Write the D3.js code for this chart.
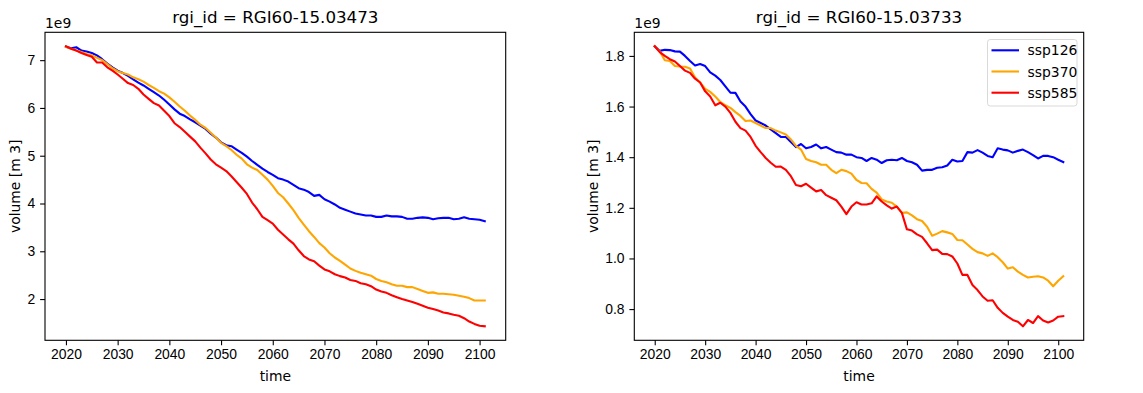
<!DOCTYPE html>
<html>
<head>
<meta charset="utf-8">
<script src="https://cdn.jsdelivr.net/npm/d3@7"></script>
<style>
  body { margin: 0; background: #fff; }
  svg { display: block; font-family: "DejaVu Sans", sans-serif; }
  .tick text { font-size: 13.9px; fill: #000; }
  .tick line { stroke: #000; stroke-width: 1.1; }
  .domain { display: none; }
</style>
</head>
<body>
<script>
const width = 1143;
const height = 393;

// yearly time axis, 2020..2101
const years = d3.range(2020, 2102);
const xTicks = [2020, 2030, 2040, 2050, 2060, 2070, 2080, 2090, 2100];

const scenarios = ['ssp126', 'ssp370', 'ssp585'];
const colors = ['#0000ff', '#ffa500', '#ff0000'];

// RGI60-15.03473, volume in 1e9 m3
const a_ssp126 = [7.28, 7.25, 7.27, 7.20, 7.18, 7.15, 7.10, 7.02, 6.93, 6.85,
  6.78, 6.73, 6.67, 6.60, 6.53, 6.47, 6.40, 6.33, 6.26, 6.17,
  6.07, 5.97, 5.88, 5.83, 5.76, 5.70, 5.63, 5.56, 5.46, 5.38,
  5.28, 5.22, 5.20, 5.13, 5.06, 4.98, 4.89, 4.81, 4.73, 4.66,
  4.60, 4.53, 4.50, 4.46, 4.39, 4.32, 4.29, 4.24, 4.16, 4.18,
  4.09, 4.04, 3.98, 3.91, 3.87, 3.83, 3.79, 3.77, 3.75, 3.75,
  3.72, 3.72, 3.75, 3.73, 3.73, 3.72, 3.68, 3.68, 3.70, 3.71,
  3.70, 3.67, 3.69, 3.70, 3.70, 3.67, 3.68, 3.71, 3.68, 3.67,
  3.66, 3.63];
const a_ssp370 = [7.28, 7.24, 7.20, 7.17, 7.13, 7.10, 7.05, 7.00, 6.92, 6.83,
  6.77, 6.73, 6.70, 6.64, 6.60, 6.55, 6.48, 6.42, 6.35, 6.30,
  6.22, 6.13, 6.03, 5.94, 5.84, 5.75, 5.65, 5.58, 5.48, 5.38,
  5.27, 5.20, 5.12, 5.02, 4.94, 4.82, 4.75, 4.70, 4.60, 4.50,
  4.37, 4.22, 4.13, 4.00, 3.86, 3.70, 3.56, 3.42, 3.30, 3.17,
  3.08, 2.96, 2.87, 2.80, 2.72, 2.64, 2.59, 2.55, 2.52, 2.49,
  2.42, 2.38, 2.35, 2.31, 2.28, 2.28, 2.25, 2.25, 2.21, 2.17,
  2.13, 2.14, 2.11, 2.11, 2.10, 2.09, 2.07, 2.05, 2.02, 1.97,
  1.97, 1.97];
const a_ssp585 = [7.29, 7.24, 7.20, 7.15, 7.11, 7.07, 6.95, 6.95, 6.85, 6.78,
  6.70, 6.61, 6.52, 6.48, 6.40, 6.28, 6.19, 6.10, 6.05, 5.94,
  5.83, 5.68, 5.60, 5.50, 5.40, 5.30, 5.17, 5.05, 4.92, 4.82,
  4.75, 4.68, 4.57, 4.45, 4.33, 4.20, 4.02, 3.88, 3.72, 3.65,
  3.58, 3.45, 3.35, 3.25, 3.16, 3.02, 2.90, 2.83, 2.79, 2.70,
  2.62, 2.58, 2.52, 2.48, 2.45, 2.40, 2.38, 2.33, 2.31, 2.27,
  2.20, 2.16, 2.13, 2.08, 2.04, 2.00, 1.97, 1.94, 1.90, 1.86,
  1.82, 1.79, 1.76, 1.72, 1.70, 1.67, 1.65, 1.60, 1.53, 1.48,
  1.44, 1.43];
const a_yTicks = [2, 3, 4, 5, 6, 7];

// RGI60-15.03733, volume in 1e9 m3
const b_ssp126 = [1.838, 1.820, 1.824, 1.823, 1.818, 1.817, 1.800, 1.780, 1.762, 1.768,
  1.760, 1.735, 1.722, 1.705, 1.680, 1.655, 1.654, 1.620, 1.600, 1.570,
  1.545, 1.535, 1.525, 1.510, 1.495, 1.480, 1.480, 1.460, 1.440, 1.452,
  1.435, 1.440, 1.450, 1.435, 1.440, 1.430, 1.420, 1.418, 1.410, 1.410,
  1.400, 1.397, 1.385, 1.397, 1.390, 1.377, 1.388, 1.390, 1.388, 1.397,
  1.385, 1.380, 1.370, 1.347, 1.350, 1.350, 1.358, 1.360, 1.367, 1.390,
  1.383, 1.385, 1.420, 1.418, 1.428, 1.418, 1.405, 1.400, 1.435, 1.430,
  1.427, 1.418, 1.425, 1.430, 1.420, 1.408, 1.395, 1.405, 1.405, 1.400,
  1.390, 1.381];
const b_ssp370 = [1.838, 1.818, 1.783, 1.780, 1.760, 1.758, 1.757, 1.750, 1.715, 1.695,
  1.670, 1.658, 1.640, 1.618, 1.605, 1.595, 1.578, 1.563, 1.543, 1.545,
  1.535, 1.525, 1.515, 1.515, 1.505, 1.498, 1.490, 1.470, 1.445, 1.430,
  1.393, 1.385, 1.380, 1.370, 1.370, 1.350, 1.337, 1.350, 1.345, 1.335,
  1.310, 1.298, 1.297, 1.275, 1.260, 1.233, 1.225, 1.220, 1.205, 1.180,
  1.182, 1.170, 1.155, 1.148, 1.125, 1.090, 1.098, 1.108, 1.103, 1.097,
  1.073, 1.072, 1.055, 1.038, 1.025, 1.020, 1.010, 1.020, 1.005, 0.985,
  0.960, 0.965, 0.948, 0.935, 0.925, 0.928, 0.930, 0.925, 0.912, 0.890,
  0.912, 0.930];
const b_ssp585 = [1.838, 1.815, 1.800, 1.787, 1.778, 1.760, 1.742, 1.733, 1.710, 1.695,
  1.660, 1.640, 1.605, 1.615, 1.600, 1.575, 1.540, 1.515, 1.505, 1.480,
  1.445, 1.420, 1.397, 1.378, 1.362, 1.363, 1.350, 1.325, 1.290, 1.285,
  1.295, 1.280, 1.265, 1.270, 1.250, 1.240, 1.230, 1.205, 1.175, 1.205,
  1.222, 1.213, 1.213, 1.218, 1.245, 1.225, 1.210, 1.197, 1.205, 1.180,
  1.115, 1.110, 1.095, 1.085, 1.060, 1.033, 1.035, 1.018, 1.017, 1.008,
  0.980, 0.935, 0.935, 0.895, 0.875, 0.850, 0.833, 0.835, 0.805, 0.785,
  0.770, 0.757, 0.750, 0.732, 0.757, 0.745, 0.772, 0.755, 0.747, 0.755,
  0.770, 0.772];
const b_yTicks = [0.8, 1.0, 1.2, 1.4, 1.6, 1.8];

const svg = d3.select('body').append('svg')
  .attr('width', width)
  .attr('height', height);

// matplotlib-style 5% margins around data
const padded = (lo, hi) => {
  const m = (hi - lo) * 0.05;
  return [lo - m, hi + m];
};

const drawPanel = (opts) => {
  const {left, right, top, bottom, title, series, yTicks, yFormat, ylabelX, legend} = opts;

  const x = d3.scaleLinear()
    .domain(padded(d3.min(years), d3.max(years)))
    .range([left, right]);

  const all = series.flat();
  const y = d3.scaleLinear()
    .domain(padded(d3.min(all), d3.max(all)))
    .range([bottom, top]);

  const g = svg.append('g');

  g.append('g')
    .attr('transform', `translate(0,${bottom})`)
    .call(d3.axisBottom(x).tickValues(xTicks).tickFormat(d3.format('d'))
      .tickSizeInner(4.9).tickSizeOuter(0).tickPadding(4.2));

  g.append('g')
    .attr('transform', `translate(${left},0)`)
    .call(d3.axisLeft(y).tickValues(yTicks).tickFormat(yFormat)
      .tickSizeInner(4.9).tickSizeOuter(0).tickPadding(4.9));

  const line = d3.line()
    .x((d, i) => x(years[i]))
    .y((d) => y(d));

  series.forEach((s, k) => {
    g.append('path')
      .datum(s)
      .attr('d', line)
      .attr('fill', 'none')
      .attr('stroke', colors[k])
      .attr('stroke-width', 2.1)
      .attr('stroke-linejoin', 'round')
      .attr('stroke-linecap', 'square');
  });

  g.append('rect')
    .attr('x', left).attr('y', top)
    .attr('width', right - left).attr('height', bottom - top)
    .attr('fill', 'none')
    .attr('stroke', '#000')
    .attr('stroke-width', 1.1);

  g.append('text')
    .attr('x', (left + right) / 2).attr('y', 23)
    .attr('text-anchor', 'middle')
    .style('font-size', '16.7px')
    .text(title);

  g.append('text')
    .attr('x', left).attr('y', 27.5)
    .style('font-size', '13.9px')
    .text('1e9');

  g.append('text')
    .attr('x', (left + right) / 2).attr('y', 381)
    .attr('text-anchor', 'middle')
    .style('font-size', '13.9px')
    .text('time');

  g.append('text')
    .attr('transform', `translate(${ylabelX},${(top + bottom) / 2}) rotate(-90)`)
    .attr('text-anchor', 'middle')
    .style('font-size', '13.9px')
    .text('volume [m 3]');

  if (legend) {
    const lx = 987.5, ly = 39.5;
    const lg = g.append('g');
    lg.append('rect')
      .attr('x', lx).attr('y', ly)
      .attr('width', 89.5).attr('height', 66.5)
      .attr('rx', 2.8)
      .attr('fill', '#fff').attr('fill-opacity', 0.8)
      .attr('stroke', '#d9d9d9').attr('stroke-width', 1);
    scenarios.forEach((name, k) => {
      const cy = ly + 10.8 + k * 21.2;
      lg.append('line')
        .attr('x1', lx + 4).attr('x2', lx + 31.5)
        .attr('y1', cy).attr('y2', cy)
        .attr('stroke', colors[k]).attr('stroke-width', 2.1);
      lg.append('text')
        .attr('x', lx + 40).attr('y', cy + 5)
        .style('font-size', '13.9px')
        .text(name);
    });
  }
};

drawPanel({
  left: 45, right: 505.7, top: 32.3, bottom: 340.3,
  title: 'rgi_id = RGI60-15.03473',
  series: [a_ssp126, a_ssp370, a_ssp585],
  yTicks: a_yTicks,
  yFormat: d3.format('d'),
  ylabelX: 20,
  legend: false
});

drawPanel({
  left: 634.3, right: 1083.7, top: 32.3, bottom: 340.3,
  title: 'rgi_id = RGI60-15.03733',
  series: [b_ssp126, b_ssp370, b_ssp585],
  yTicks: b_yTicks,
  yFormat: d3.format('.1f'),
  ylabelX: 597.5,
  legend: true
});
</script>
</body>
</html>
